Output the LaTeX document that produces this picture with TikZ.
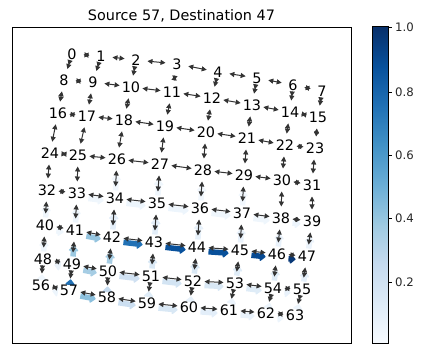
\documentclass[tikz,border=0pt]{standalone}
\usepackage{fontspec}
\setmainfont{DejaVu Sans}
\usetikzlibrary{calc,arrows.meta}
\pgfdeclarelayer{flowlayer}
\pgfdeclarelayer{edgelayer}
\pgfsetlayers{flowlayer,edgelayer,main}
\definecolor{B0}{HTML}{F7FBFF}
\definecolor{B1}{HTML}{DEEBF7}
\definecolor{B2}{HTML}{C6DBEF}
\definecolor{B3}{HTML}{9ECAE1}
\definecolor{B4}{HTML}{6BAED6}
\definecolor{B5}{HTML}{4292C6}
\definecolor{B6}{HTML}{2171B5}
\definecolor{B7}{HTML}{08519C}
\definecolor{B8}{HTML}{08306B}
\tikzset{
  lbl/.style={inner sep=0pt, font=\fontsize{14.4}{16}\selectfont, text=black},
  darr/.style={draw=black!80, line width=1pt,
    {Triangle[length=5pt,width=5pt]}-{Triangle[length=5pt,width=5pt]}},
  farr/.style={line width=5.5pt, line join=round, -{Triangle[length=6pt,width=11pt,round]},
    transform canvas={yshift=-4pt}},
  axframe/.style={draw=black, line width=1pt},
  ticklbl/.style={anchor=west, inner sep=0pt, font=\fontsize{11.7}{13}\selectfont, text=black!85}
}
\newcommand\flw[3]{%
  \pgfmathsetmacro\flV{min(#3,0.999)*8}%
  \pgfmathtruncatemacro\flK{floor(\flV)}%
  \pgfmathtruncatemacro\flN{\flK+1}%
  \pgfmathsetmacro\flT{(\flV-\flK)*100}%
  \draw[farr, draw=B\flN!\flT!B\flK]
    ($(n#1.center)!11.5pt!(n#2.center)$) -- ($(n#2.center)!11.5pt!(n#1.center)$);}
\begin{document}
\begin{tikzpicture}[x=1pt,y=-1pt]
\useasboundingbox (0,0) rectangle (423,355);
% title
\node[lbl, anchor=base] (title) at (181.5,21) {Source 57, Destination 47};
% axes frame
\draw[axframe] (12,28) rectangle (351,343);
% nodes
\foreach \n/\x/\y in {
 0/72/54, 1/101/56, 2/136/60, 3/177/64, 4/218/72, 5/257/78, 6/293/85, 7/322/91,
 8/64/80, 9/93/82, 10/131/87, 11/172/92, 12/212/98, 13/252/105, 14/290/112, 15/318/117,
 16/58/113, 17/87/116, 18/124/120, 19/165/126, 20/206/132, 21/247/138, 22/285/145, 23/315/148,
 24/50/153, 25/78/155, 26/117/159, 27/160/164, 28/203/170, 29/244/175, 30/282/180, 31/312/185,
 32/47/190, 33/77/193, 34/115/198, 35/157/203, 36/200/208, 37/242/213, 38/281/218, 39/312/221,
 40/45/225, 41/75/230, 42/112/237, 43/154/242, 44/197/247, 45/240/250, 46/277/254, 47/307/256,
 48/43/259, 49/72/264, 50/108/271, 51/151/276, 52/193/281, 53/235/283, 54/273/288, 55/302/289,
 56/41/285, 57/69/290, 58/107/297, 59/147/303, 60/189/307, 61/229/310, 62/266/313, 63/295/315}
 {\node[lbl] (n\n) at (\x,\y) {\n};}
% dark grid edges
\begin{pgfonlayer}{edgelayer}
\foreach \r in {0,...,7}{\foreach \c in {0,...,6}{%
  \pgfmathtruncatemacro\ea{8*\r+\c}\pgfmathtruncatemacro\eb{\ea+1}%
  \draw[darr] ($(n\ea.center)!11.5pt!(n\eb.center)$) -- ($(n\eb.center)!11.5pt!(n\ea.center)$);}}
\foreach \i in {0,...,55}{%
  \pgfmathtruncatemacro\eb{\i+8}%
  \draw[darr] ($(n\i.center)!11.5pt!(n\eb.center)$) -- ($(n\eb.center)!11.5pt!(n\i.center)$);}
\end{pgfonlayer}
% flow arrows
\begin{pgfonlayer}{flowlayer}
\flw{35}{27}{0.04}\flw{34}{26}{0.03}\flw{36}{28}{0.03}\flw{37}{29}{0.03}
\flw{40}{32}{0.04}\flw{41}{33}{0.05}\flw{33}{34}{0.04}
\flw{42}{34}{0.10}\flw{43}{35}{0.10}\flw{44}{36}{0.08}\flw{45}{37}{0.07}\flw{46}{38}{0.07}\flw{47}{39}{0.06}
\flw{34}{35}{0.05}\flw{35}{36}{0.05}\flw{36}{37}{0.04}\flw{37}{38}{0.04}\flw{38}{39}{0.05}
\flw{57}{56}{0.05}\flw{56}{48}{0.04}\flw{49}{48}{0.06}\flw{48}{40}{0.04}\flw{40}{41}{0.04}
\flw{63}{55}{0.05}\flw{62}{63}{0.05}\flw{62}{54}{0.05}\flw{61}{62}{0.07}\flw{61}{53}{0.06}
\flw{60}{61}{0.10}\flw{60}{52}{0.08}\flw{54}{55}{0.07}\flw{55}{47}{0.10}
\flw{54}{46}{0.12}\flw{53}{54}{0.12}\flw{53}{45}{0.12}\flw{52}{53}{0.15}\flw{52}{44}{0.15}
\flw{59}{60}{0.15}\flw{59}{51}{0.12}\flw{51}{52}{0.18}\flw{51}{43}{0.15}\flw{50}{51}{0.20}
\flw{58}{59}{0.22}\flw{58}{50}{0.25}\flw{50}{42}{0.35}\flw{49}{50}{0.35}\flw{57}{58}{0.42}
\flw{49}{41}{0.38}\flw{41}{42}{0.40}\flw{57}{49}{0.75}
\flw{42}{43}{0.75}\flw{43}{44}{0.87}\flw{44}{45}{0.88}\flw{45}{46}{0.90}\flw{46}{47}{0.97}
\end{pgfonlayer}
% colorbar
\foreach \k [evaluate=\k as \kn using int(\k+1)] in {0,...,7}{%
  \shade[bottom color=B\k, top color=B\kn]
    (372,{343-39.5*\k+0.3}) rectangle (388,{343-39.5*(\k+1)});}
\draw[axframe] (372,27) rectangle (388,343);
\foreach \v/\yy [count=\q] in {1.0/27.5, 0.8/92, 0.6/155, 0.4/218.5, 0.2/282}{%
  \draw[black, line width=0.9pt] (388,\yy) -- (392,\yy);
  \node[ticklbl] (tick\q) at (395,\yy) {\v};}
\end{tikzpicture}
\end{document}
